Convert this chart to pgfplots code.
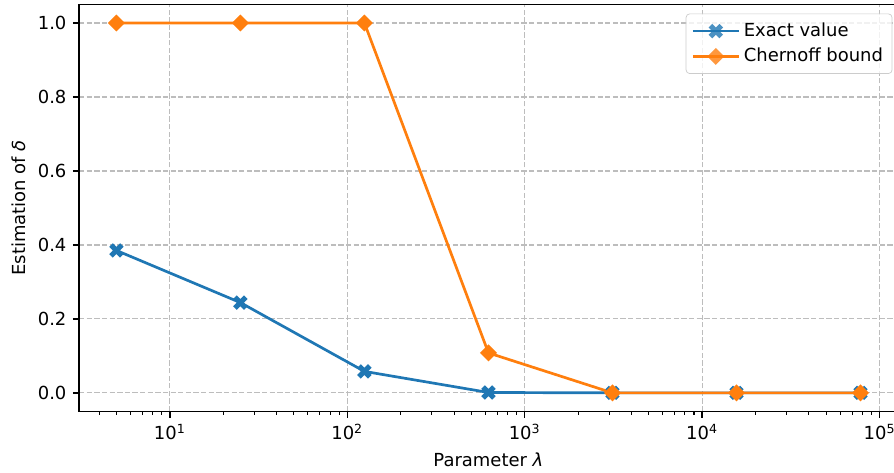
\documentclass[border=0pt]{standalone}
\usepackage{fontspec}
\setmainfont{DejaVu Sans}
\usepackage{pgfplots}
\pgfplotsset{compat=1.18}
\definecolor{mblue}{HTML}{1F77B4}
\definecolor{morange}{HTML}{FF7F0E}
\definecolor{gridgray}{HTML}{BDBDBD}
\pgfdeclareplotmark{Xf}{%
  \pgfpathmoveto{\pgfqpoint{0pt}{0.5\pgfplotmarksize}}%
  \pgfpathlineto{\pgfqpoint{0.5\pgfplotmarksize}{\pgfplotmarksize}}%
  \pgfpathlineto{\pgfqpoint{\pgfplotmarksize}{0.5\pgfplotmarksize}}%
  \pgfpathlineto{\pgfqpoint{0.5\pgfplotmarksize}{0pt}}%
  \pgfpathlineto{\pgfqpoint{\pgfplotmarksize}{-0.5\pgfplotmarksize}}%
  \pgfpathlineto{\pgfqpoint{0.5\pgfplotmarksize}{-\pgfplotmarksize}}%
  \pgfpathlineto{\pgfqpoint{0pt}{-0.5\pgfplotmarksize}}%
  \pgfpathlineto{\pgfqpoint{-0.5\pgfplotmarksize}{-\pgfplotmarksize}}%
  \pgfpathlineto{\pgfqpoint{-\pgfplotmarksize}{-0.5\pgfplotmarksize}}%
  \pgfpathlineto{\pgfqpoint{-0.5\pgfplotmarksize}{0pt}}%
  \pgfpathlineto{\pgfqpoint{-\pgfplotmarksize}{0.5\pgfplotmarksize}}%
  \pgfpathlineto{\pgfqpoint{-0.5\pgfplotmarksize}{\pgfplotmarksize}}%
  \pgfpathclose\pgfusepathqfill}
\pgfdeclareplotmark{Dsq}{%
  \pgfpathmoveto{\pgfqpoint{0pt}{\pgfplotmarksize}}%
  \pgfpathlineto{\pgfqpoint{\pgfplotmarksize}{0pt}}%
  \pgfpathlineto{\pgfqpoint{0pt}{-\pgfplotmarksize}}%
  \pgfpathlineto{\pgfqpoint{-\pgfplotmarksize}{0pt}}%
  \pgfpathclose\pgfusepathqfill}
\begin{document}
\begin{tikzpicture}
\begin{axis}[
  name=ax,
  scale only axis,
  width=453.6bp, height=225.4bp,
  xmode=log,
  xmin=3.08, xmax=126700,
  ymin=-0.05, ymax=1.05,
  xtick={10,100,1000,10000,100000},
  xticklabels={10\textsuperscript{1},10\textsuperscript{2},10\textsuperscript{3},10\textsuperscript{4},10\textsuperscript{5}},
  minor xtick={4,5,6,7,8,9,20,30,40,50,60,70,80,90,200,300,400,500,600,700,800,900,2000,3000,4000,5000,6000,7000,8000,9000,20000,30000,40000,50000,60000,70000,80000,90000},
  ytick={0,0.2,0.4,0.6,0.8,1.0},
  yticklabel style={/pgf/number format/.cd, fixed, fixed zerofill, precision=1, assume math mode=true},
  tick align=outside,
  tick pos=left,
  major tick length=3.5pt,
  minor tick length=2pt,
  every tick/.style={black, line width=0.8pt},
  minor tick style={line width=0.6pt},
  axis line style={line width=0.8pt},
  grid=major,
  major grid style={gridgray, line width=0.65pt, dash pattern=on 2.96pt off 1.28pt},
  minor grid style={draw=none},
  xlabel={Parameter {\itshape λ}},
  ylabel={Estimation of {\itshape δ}},
  label style={font=\fontsize{10}{12}\selectfont},
  ticklabel style={font=\fontsize{10}{12}\selectfont},
  legend style={at={(1,1)}, anchor=north east, xshift=-3pt, yshift=-5pt,
    draw=black!20, rounded corners=2pt, fill=white, fill opacity=0.8, text opacity=1,
    font=\fontsize{10}{12}\selectfont, row sep=1pt, inner sep=3pt},
  legend cell align=left,
  legend image code/.code={%
    \draw[mark repeat=2,mark phase=2] plot coordinates {(0cm,0cm)(0.45cm,0cm)(0.9cm,0cm)};},
]
\addplot[mblue, line width=1.5pt, mark=Xf, mark size=4.0bp] coordinates {
  (5,0.385) (25,0.244) (125,0.058) (625,0.001) (3125,0) (15625,0) (78125,0)};
\addlegendentry{Exact value}
\addplot[morange, line width=1.5pt, mark=Dsq, mark size=4.7bp] coordinates {
  (5,1.0) (25,1.0) (125,1.0) (625,0.108) (3125,0) (15625,0) (78125,0)};
\addlegendentry{Chernoff bound}
\end{axis}
\pgfresetboundingbox
\useasboundingbox ([xshift=-43.8bp,yshift=-34.1bp]ax.south west) rectangle ([xshift=451.5bp,yshift=2.5bp]ax.north west);
\end{tikzpicture}
\end{document}
